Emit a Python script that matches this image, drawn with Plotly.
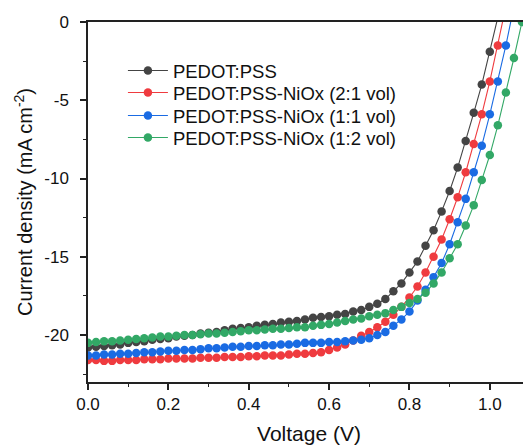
import plotly.graph_objects as go

voltage = [round(i * 0.02, 2) for i in range(56)]

j_pedot = [-20.8, -20.75, -20.7, -20.65, -20.6, -20.5, -20.45, -20.4, -20.3, -20.25,
           -20.2, -20.1, -20.05, -20.0, -19.9, -19.85, -19.8, -19.7, -19.6, -19.55,
           -19.5, -19.4, -19.35, -19.3, -19.2, -19.15, -19.1, -19.0, -18.9, -18.85,
           -18.8, -18.7, -18.65, -18.5, -18.4, -18.2, -18.0, -17.7, -17.2, -16.7,
           -16.0, -15.3, -14.3, -13.3, -12.1, -10.8, -9.3, -7.6, -5.8, -4.0,
           -1.9, 0.3]

j_21 = [-21.6, -21.6, -21.65, -21.65, -21.6, -21.6, -21.6, -21.55, -21.55, -21.55,
        -21.5, -21.5, -21.5, -21.5, -21.45, -21.45, -21.45, -21.4, -21.4, -21.4,
        -21.35, -21.35, -21.3, -21.3, -21.3, -21.25, -21.2, -21.2, -21.15, -21.1,
        -20.95, -20.8, -20.6, -20.35, -20.05, -19.8, -19.5, -19.15, -18.7, -18.2,
        -17.6, -16.9, -16.0, -15.0, -13.9, -12.6, -11.2, -9.6, -7.8, -5.9,
        -3.8, -1.5, 1.0]

j_11 = [-21.3, -21.3, -21.25, -21.25, -21.2, -21.2, -21.15, -21.1, -21.1, -21.05,
        -21.0, -21.0, -20.95, -20.95, -20.9, -20.85, -20.85, -20.8, -20.75, -20.75,
        -20.7, -20.7, -20.65, -20.65, -20.6, -20.6, -20.55, -20.5, -20.5, -20.5,
        -20.45, -20.45, -20.4, -20.35, -20.3, -20.2, -20.0, -19.8, -19.4, -19.0,
        -18.5, -17.8, -17.1, -16.3, -15.4, -14.2, -12.8, -11.3, -9.6, -7.9,
        -5.9, -3.8, -1.5, 1.0]

j_12 = [-20.5, -20.45, -20.4, -20.4, -20.35, -20.3, -20.25, -20.2, -20.15, -20.1,
        -20.1, -20.05, -20.0, -20.0, -19.95, -19.9, -19.9, -19.85, -19.8, -19.75,
        -19.7, -19.7, -19.65, -19.6, -19.6, -19.55, -19.5, -19.5, -19.4, -19.35,
        -19.3, -19.2, -19.1, -19.0, -18.95, -18.8, -18.7, -18.6, -18.4, -18.2,
        -17.95, -17.7, -17.3, -16.7, -16.0, -15.1, -14.2, -13.0, -11.7, -10.1,
        -8.5, -6.6, -4.5, -2.3, 0.0, 2.3]

names = ["PEDOT:PSS", "PEDOT:PSS-NiOx (2:1 vol)", "PEDOT:PSS-NiOx (1:1 vol)", "PEDOT:PSS-NiOx (1:2 vol)"]
colors = ["#444444", "#ef3b3f", "#1a6be3", "#32a866"]
series = [j_pedot, j_21, j_11, j_12]
legend_ids = ["legend", "legend2", "legend3", "legend4"]
legend_rows = [0.864, 0.803, 0.739, 0.678]

x_ticks = [0.0, 0.2, 0.4, 0.6, 0.8, 1.0]
y_ticks = [0, -5, -10, -15, -20]

fig = go.Figure()
for name, col, ys, lg in zip(names, colors, series, legend_ids):
    fig.add_trace(go.Scatter(
        x=voltage[:len(ys)], y=ys, name=name, mode="lines+markers",
        line=dict(color=col, width=1.1),
        marker=dict(color=col, size=8.5, line=dict(width=0)),
        legend=lg,
    ))

font = "Arial, Liberation Sans, sans-serif"
legend_common = dict(x=0.079, xanchor="left", yanchor="middle",
                     bgcolor="rgba(0,0,0,0)", font=dict(size=18.5, family=font),
                     itemwidth=40)
layout_legends = {lg: dict(y=yr, **legend_common) for lg, yr in zip(legend_ids, legend_rows)}

# The page body has an 8px margin; figure size and margins compensate for it.
fig.update_layout(
    width=523, height=440,
    margin=dict(l=80, r=1, t=14, b=66),
    paper_bgcolor="white", plot_bgcolor="white",
    font=dict(family=font, size=17, color="#111111"),
    showlegend=True,
    xaxis=dict(
        range=[0, 1.1], tickvals=x_ticks, ticktext=[f"{v:.1f}" for v in x_ticks],
        showline=True, linecolor="#222222", linewidth=1.5, mirror=True,
        ticks="outside", ticklen=6, tickwidth=1.5, tickcolor="#222222",
        minor=dict(ticks="outside", ticklen=3, tickwidth=1.2, dtick=0.1, tick0=0, tickcolor="#222222"),
        showgrid=False, zeroline=False, automargin=False,
        title=dict(text="Voltage (V)", font=dict(size=21, family=font), standoff=13),
        tickfont=dict(size=17),
    ),
    yaxis=dict(
        range=[-23, 0], tickvals=y_ticks, ticktext=[str(v) for v in y_ticks],
        showline=True, linecolor="#222222", linewidth=1.5, mirror=True,
        ticks="outside", ticklen=6, tickwidth=1.5, tickcolor="#222222",
        minor=dict(ticks="outside", ticklen=3, tickwidth=1.2, dtick=2.5, tick0=0, tickcolor="#222222"),
        showgrid=False, zeroline=False, automargin=False, ticklabelstandoff=8,
        title=dict(text="Current density (mA cm<sup>-2</sup>)", font=dict(size=20, family=font), standoff=6),
        tickfont=dict(size=17),
    ),
    **layout_legends,
)

fig.write_html("out.html")
